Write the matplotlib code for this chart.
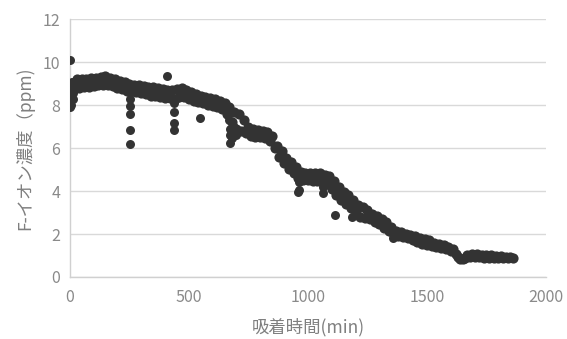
import matplotlib
matplotlib.use("Agg")
import matplotlib.pyplot as plt

plt.rcParams['font.family'] = ['Noto Sans CJK JP', 'DejaVu Sans']

# main trace (min, ppm), readings alternate between upper and lower edge of the band
time_min = [
    0, 10, 20, 30, 40, 50, 60, 70, 80, 90,
    100, 110, 120, 130, 140, 150, 160, 170, 180, 190,
    200, 210, 220, 230, 240, 250, 260, 270, 280, 290,
    300, 310, 320, 330, 340, 350, 360, 370, 380, 390,
    400, 410, 420, 430, 440, 450, 460, 470, 480, 490,
    500, 510, 520, 530, 540, 550, 560, 570, 580, 590,
    600, 610, 620, 630, 640, 650, 660, 670, 680, 690,
    700, 710, 720, 730, 740, 750, 760, 770, 780, 790,
    800, 810, 820, 830, 840, 850, 860, 870, 880, 890,
    900, 910, 920, 930, 940, 950, 960, 970, 980, 990,
    1000, 1010, 1020, 1030, 1040, 1050, 1060, 1070, 1080, 1090,
    1100, 1110, 1120, 1130, 1140, 1150, 1160, 1170, 1180, 1190,
    1200, 1210, 1220, 1230, 1240, 1250, 1260, 1270, 1280, 1290,
    1300, 1310, 1320, 1330, 1340, 1350, 1360, 1370, 1380, 1390,
    1400, 1410, 1420, 1430, 1440, 1450, 1460, 1470, 1480, 1490,
    1500, 1510, 1520, 1530, 1540, 1550, 1560, 1570, 1580, 1590,
    1600, 1610, 1620, 1630, 1640, 1650, 1660, 1670, 1680, 1690,
    1700, 1710, 1720, 1730, 1740, 1750, 1760, 1770, 1780, 1790,
    1800, 1810, 1820, 1830, 1840, 1850, 1860,
]
conc_ppm = [
    8.4, 9.05, 8.8, 9.2, 8.8, 9.2, 8.85, 9.2, 8.85, 9.25,
    8.9, 9.25, 8.95, 9.3, 8.95, 9.35, 8.95, 9.25, 8.9, 9.2,
    8.8, 9.15, 8.75, 9.1, 8.65, 9.0, 8.65, 8.95, 8.6, 8.95,
    8.55, 8.9, 8.5, 8.85, 8.45, 8.85, 8.45, 8.8, 8.4, 8.75,
    8.35, 8.7, 8.35, 8.7, 8.3, 8.75, 8.4, 8.8, 8.4, 8.7,
    8.3, 8.6, 8.2, 8.5, 8.15, 8.45, 8.1, 8.4, 8.0, 8.35,
    7.95, 8.3, 7.9, 8.2, 7.8, 8.1, 7.6, 7.9, 7.2, 7.7,
    6.9, 7.6, 6.8, 7.3, 6.7, 7.0, 6.55, 6.9, 6.5, 6.85,
    6.5, 6.8, 6.45, 6.75, 6.35, 6.55, 6.0, 6.1, 5.6, 5.85,
    5.3, 5.55, 5.05, 5.35, 4.85, 5.1, 4.6, 4.9, 4.5, 4.85,
    4.5, 4.85, 4.45, 4.85, 4.45, 4.85, 4.4, 4.75, 4.35, 4.7,
    4.1, 4.45, 3.8, 4.2, 3.6, 3.95, 3.4, 3.8, 3.2, 3.6,
    3.0, 3.35, 2.8, 3.25, 2.75, 3.1, 2.7, 2.95, 2.55, 2.85,
    2.45, 2.7, 2.3, 2.55, 2.15, 2.35, 1.95, 2.15, 1.9, 2.1,
    1.85, 2.0, 1.8, 1.95, 1.7, 1.9, 1.65, 1.8, 1.55, 1.75,
    1.5, 1.7, 1.45, 1.6, 1.4, 1.55, 1.35, 1.5, 1.3, 1.4,
    1.2, 1.3, 1.05, 0.95, 0.85, 0.85, 0.88, 1.0, 0.92, 1.05,
    0.95, 1.05, 0.92, 1.02, 0.9, 1.0, 0.9, 1.0, 0.88, 0.98,
    0.88, 0.97, 0.86, 0.95, 0.87, 0.92, 0.9,
]

# scattered readings
extra_time = [0, 0, 0, 2, 3, 5, 5, 8, 12, 15,
              252, 252, 252, 252, 252,
              410, 436, 436, 436, 436, 546,
              668, 672, 672, 674, 680, 690, 700,
              960, 964, 964, 1064, 1064,
              1114, 1187, 1200, 1358]
extra_conc = [10.1, 7.9, 8.15, 8.4, 8.7, 8.0, 9.0, 9.1, 8.3, 8.55,
              8.3, 7.95, 7.6, 6.85, 6.2,
              9.35, 8.1, 7.7, 7.15, 6.85, 7.4,
              7.3, 6.9, 6.6, 6.25, 6.45, 7.0, 6.6,
              3.95, 4.4, 4.05, 4.2, 3.9,
              2.9, 2.8, 3.0, 1.8]

fig = plt.figure(figsize=(5.67, 3.39), dpi=100)
ax = fig.add_axes([0.123, 0.183, 0.840, 0.760])

ax.scatter(time_min, conc_ppm, s=54, color='#333333', linewidths=0, zorder=3)
ax.scatter(extra_time, extra_conc, s=42, color='#333333', linewidths=0, zorder=3)

ax.set_xlim(0, 2000)
ax.set_ylim(0, 12)
ax.set_xticks([0, 500, 1000, 1500, 2000])
ax.set_yticks([0, 2, 4, 6, 8, 10, 12])
ax.grid(axis='y', color='#d9d9d9', linewidth=1)
ax.set_axisbelow(True)
for side in ['top', 'right']:
    ax.spines[side].set_visible(False)
for side in ['left', 'bottom']:
    ax.spines[side].set_color('#d0d0d0')
    ax.spines[side].set_linewidth(1)
ax.tick_params(length=0, labelsize=11.5, labelcolor='#8a8a8a')
ax.tick_params(axis='x', pad=9)
ax.tick_params(axis='y', pad=7)

ax.set_xlabel('吸着時間(min)', fontsize=12.5, color='#7f7f7f', labelpad=8)
ax.set_ylabel('F-イオン濃度（ppm)', fontsize=12.5, color='#7f7f7f', labelpad=6)

plt.savefig('out.png', dpi=100)
